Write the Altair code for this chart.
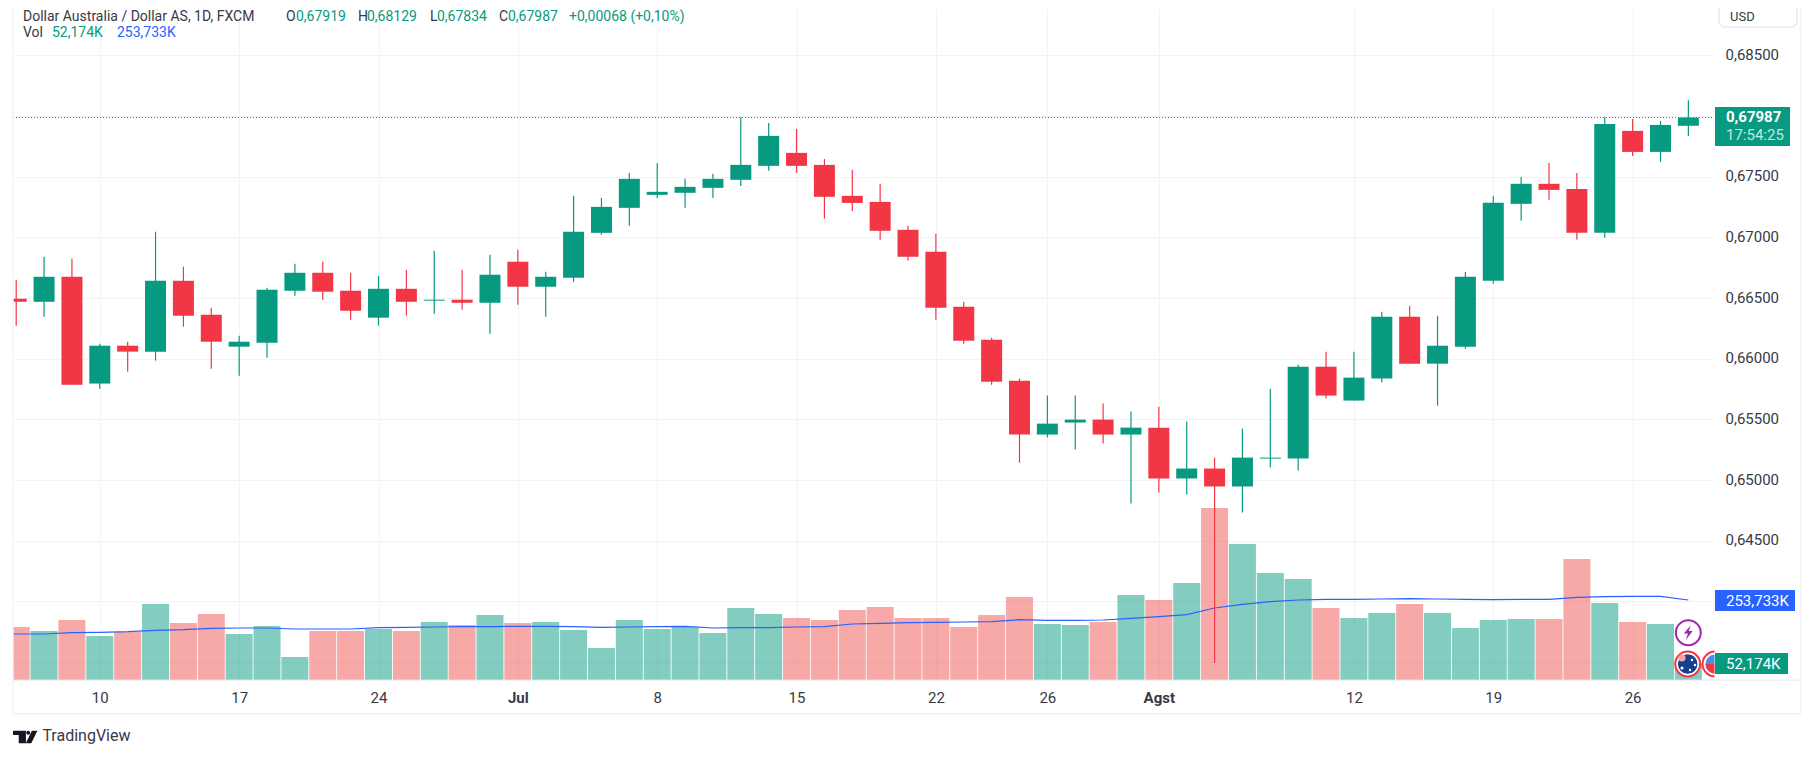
import json
import altair as alt
import pandas as pd

opens = [0.66494,0.66469,0.66675,0.65795,0.66107,0.66058,0.66642,0.66362,0.66099,0.66132,
         0.66560,0.66708,0.66560,0.66338,0.66576,0.66478,0.66486,0.66461,0.66799,0.66593,
         0.66667,0.67037,0.67243,0.67350,0.67367,0.67408,0.67474,0.67589,0.67696,0.67597,
         0.67342,0.67292,0.67062,0.66881,0.66428,0.66157,0.65819,0.65375,0.65474,0.65498,
         0.65375,0.65432,0.65013,0.65095,0.64947,0.65177,0.65177,0.65934,0.65655,0.65836,
         0.66346,0.65959,0.66099,0.66642,0.67276,0.67441,0.67399,0.67037,0.67877,0.67704,
         0.67919]
highs = [0.66650,0.66840,0.66823,0.66124,0.66140,0.67046,0.66758,0.66420,0.66190,0.66585,
         0.66782,0.66799,0.66708,0.66683,0.66733,0.66889,0.66733,0.66856,0.66897,0.66716,
         0.67342,0.67325,0.67531,0.67613,0.67482,0.67523,0.67989,0.67943,0.67893,0.67646,
         0.67556,0.67441,0.67095,0.67029,0.66469,0.66173,0.65836,0.65696,0.65696,0.65630,
         0.65564,0.65605,0.65482,0.65185,0.65424,0.65753,0.65951,0.66058,0.66058,0.66387,
         0.66436,0.66354,0.66716,0.67342,0.67498,0.67613,0.67531,0.67989,0.67976,0.67959,
         0.68129]
lows = [0.66272,0.66346,0.65786,0.65753,0.65893,0.65984,0.66264,0.65918,0.65860,0.66008,
        0.66519,0.66486,0.66321,0.66272,0.66354,0.66371,0.66403,0.66206,0.66445,0.66346,
        0.66634,0.67021,0.67095,0.67325,0.67243,0.67325,0.67424,0.67548,0.67531,0.67153,
        0.67218,0.66980,0.66807,0.66321,0.66124,0.65786,0.65144,0.65350,0.65251,0.65301,
        0.64807,0.64897,0.64881,0.63493,0.64733,0.65103,0.65078,0.65671,0.65655,0.65803,
        0.65959,0.65613,0.66083,0.66618,0.67136,0.67309,0.66980,0.66996,0.67671,0.67622,
        0.67834]
closes = [0.66469,0.66675,0.65786,0.66107,0.66058,0.66642,0.66354,0.66140,0.66140,0.66568,
          0.66708,0.66552,0.66395,0.66576,0.66469,0.66486,0.66461,0.66692,0.66593,0.66675,
          0.67046,0.67251,0.67482,0.67375,0.67416,0.67482,0.67597,0.67836,0.67589,0.67334,
          0.67284,0.67054,0.66840,0.66420,0.66148,0.65811,0.65375,0.65465,0.65498,0.65375,
          0.65432,0.65013,0.65095,0.64947,0.65185,0.65185,0.65934,0.65696,0.65844,0.66346,
          0.65959,0.66107,0.66675,0.67284,0.67441,0.67391,0.67037,0.67934,0.67704,0.67926,
          0.67987]
volumes = [168.1,155.4,190.3,139.5,152.2,241.0,180.7,209.3,145.9,171.2,
           72.9,155.4,155.4,161.7,155.4,183.9,174.4,206.1,180.7,183.9,
           158.6,101.5,190.3,161.7,168.1,149.0,228.3,209.3,196.6,190.3,
           222.0,231.5,196.6,196.6,168.1,206.1,263.2,177.6,174.4,183.9,
           269.5,253.7,307.6,545.4,431.3,339.3,320.3,228.3,196.6,212.5,
           241.0,212.5,164.9,190.3,193.4,193.4,383.7,244.2,183.9,177.6,
           52.174]
vol_ma = [145.9,145.9,150.1,151.2,153.3,157.5,159.6,163.8,164.9,164.9,
          161.7,161.7,161.7,165.9,167.0,168.1,169.1,169.1,170.2,170.2,
          169.1,167.0,168.1,169.1,170.2,164.9,165.9,165.9,168.1,169.1,
          177.6,179.7,181.8,182.9,183.9,185.0,191.3,189.2,189.2,190.3,
          195.5,200.8,207.2,228.3,239.9,248.4,253.7,255.8,255.8,256.9,
          257.9,256.9,255.8,254.7,255.8,255.8,262.1,264.3,265.3,265.3,
          253.733]
vol_ma_before_first = 145.9   # the average runs on to the chart's left edge
time_tick_pos = [3,8,13,18,23,28,33,37,41,48,53,58]
time_tick_txt = ["10","17","24","Jul","8","15","22","26","Agst","12","19","26"]
price_ticks = [0.635,0.64,0.645,0.65,0.655,0.66,0.665,0.67,0.675,0.68,0.685]
labelled_from = 0.6449

GREEN, RED, BLUE = "#089981", "#F23645", "#2962FF"
INK = "#363a45"
FONT = "Roboto"
GRID = "#f2f3f6"
X0, Y0 = 13, 8            # page position of the plot area's corner
W, H = 1701, 672

df = pd.DataFrame({"i": range(len(opens)), "o": opens, "h": highs, "l": lows, "c": closes,
                   "v": volumes})
df_ma = pd.DataFrame({"i": [-1] + list(range(len(vol_ma))), "ma": [vol_ma_before_first] + vol_ma})

x_scale = alt.Scale(domain=[-0.1148, 60.92], nice=False, zero=False, padding=0)
price_scale = alt.Scale(domain=[0.633525, 0.688897], nice=False, zero=False, padding=0)
vol_scale = alt.Scale(domain=[0, 2131], nice=False, zero=False, padding=0)
up = "datum.c >= datum.o"

x_axis = alt.Axis(
    values=time_tick_pos, title=None, grid=True, gridColor=GRID, gridWidth=1,
    ticks=False, domain=False, labelPadding=10, labelFont=FONT, labelFontSize=15,
    labelColor=INK, labelAngle=0, labelOverlap=False, labelFlush=False,
    labelExpr=f"{json.dumps(time_tick_txt)}[indexof({json.dumps(time_tick_pos)}, datum.value)]",
    labelFontWeight={"condition": {"test": "datum.value == 18 || datum.value == 41", "value": "bold"},
                     "value": "normal"},
)
X = alt.X("i:Q", scale=x_scale, axis=x_axis)
price_axis = alt.Axis(
    orient="right", values=price_ticks, title=None, grid=True, gridColor=GRID, gridWidth=1,
    ticks=False, domain=False, labelPadding=11, labelFont=FONT, labelFontSize=15, labelColor=INK,
    labelOverlap=False, labelFlush=False, labelOffset=-1,
    labelExpr=f"datum.value > {labelled_from} && abs(datum.value - 0.68) > 0.001 ? "
              "replace(format(datum.value, '.5f'), '.', ',') : ''",
)

base = alt.Chart(df)
vol_bars = base.mark_bar(size=27, opacity=0.5, clip=True).encode(
    x=X, y=alt.Y("v:Q", scale=vol_scale, axis=None),
    color=alt.condition(up, alt.value(GREEN), alt.value("#EF5350")))
vol_line = alt.Chart(df_ma).mark_line(color=BLUE, strokeWidth=1.2, clip=True).encode(
    x=X, y=alt.Y("ma:Q", scale=vol_scale, axis=None))
wicks = base.mark_rule(strokeWidth=1.2).encode(
    x=X, y=alt.Y("l:Q", scale=price_scale, axis=price_axis), y2="h:Q",
    color=alt.condition(up, alt.value(GREEN), alt.value(RED)))
bodies = base.mark_bar(size=21, clip=True).encode(
    x=X, y=alt.Y("o:Q", scale=price_scale, axis=None), y2="c:Q",
    color=alt.condition(up, alt.value(GREEN), alt.value(RED)))

blank = alt.Data(values=[{"a": 1}])


def px(x):
    return alt.value(x - X0)


def py(y):
    return alt.value(y - Y0)


def text(s, x, y, color=INK, size=14, weight="normal", align="left", font=FONT):
    return alt.Chart(blank).mark_text(text=s, align=align, baseline="middle", font=font, fontSize=size,
                                      fontWeight=weight, color=color).encode(x=px(x), y=py(y))


def box(x, x2, y, y2, fill, stroke=None, radius=0):
    kw = {"stroke": stroke, "strokeWidth": 1.5} if stroke else {}
    return alt.Chart(blank).mark_rect(fill=fill, cornerRadius=radius, opacity=1, **kw).encode(
        x=px(x), x2=px(x2), y=py(y), y2=py(y2))


def hline(x, x2, y, color, width=1, dash=None):
    kw = {"strokeDash": dash} if dash else {}
    return alt.Chart(blank).mark_rule(color=color, strokeWidth=width, **kw).encode(x=px(x), x2=px(x2), y=py(y))


def vline(x, y, y2, color, width=1):
    return alt.Chart(blank).mark_rule(color=color, strokeWidth=width).encode(x=px(x), y=py(y), y2=py(y2))


def dot(x, y, size, fill, stroke=None, sw=2, shape="circle"):
    kw = {"stroke": stroke, "strokeWidth": sw} if stroke else {"strokeWidth": 0}
    return alt.Chart(blank).mark_point(shape=shape, size=size, filled=True, fill=fill, opacity=1, **kw).encode(
        x=px(x), y=py(y))


last_line = alt.Chart(blank).mark_rule(color=GREEN, strokeWidth=1, strokeDash=[1, 2]).encode(
    x=alt.value(0), x2=alt.value(W), y=alt.Y(datum=closes[-1], scale=price_scale, axis=None))

LIGHTNING = "M0.35,-1 L-0.6,0.15 L-0.05,0.15 L-0.35,1 L0.6,-0.2 L0.05,-0.2 Z"
LOGO = ("M-1,-0.516 L0.06,-0.516 L0.06,0.516 L-0.53,0.516 L-0.53,-0.16 L-1,-0.16 Z "
        "M0.09,-0.35 a0.16,0.16 0 1,0 0.32,0 a0.16,0.16 0 1,0 -0.32,0 Z "
        "M0.55,-0.516 L1,-0.516 L0.5,0.516 L0.05,0.516 Z")
HALF = "M-1,0 L1,0 A1,1 0 0,1 -1,0 Z"

HEAD_Y = 16.5

decor = [
    # frame
    vline(13, 8, 714, "#f0f3fa", 1.5),
    vline(1800.5, 8, 714, "#f0f3fa", 1.5),
    hline(13, 1800.5, 714, "#f0f3fa", 2),
    hline(13, 1800.5, 680, "#e0e3eb", 1),
    # events
    dot(1688.3, 632.7, 620, "#ffffff", "#9C27B0", 2),
    dot(1688.3, 632.5, 220, "#9C27B0", shape=LIGHTNING),
    dot(1715, 664, 620, "#ffffff", RED, 2),
    dot(1715, 664, 360, "#4A90E2"),
    dot(1715, 664, 360, RED, shape=HALF),
    dot(1687.7, 664, 620, "#ffffff", RED, 2),
    dot(1687.7, 664, 380, "#173F8F"),
    dot(1682, 658, 50, "#F4A6A6"),
    dot(1692, 660, 6, "#ffffff"),
    dot(1695, 665, 6, "#ffffff"),
    dot(1690, 670, 6, "#ffffff"),
    dot(1682, 668, 10, "#ffffff"),
    box(1714.5, 1800, 645, 679.5, "#ffffff"),
    # header
    text("Dollar Australia / Dollar AS, 1D, FXCM", 23, HEAD_Y),
    text("O", 286, HEAD_Y), text("0,67919", 296, HEAD_Y, GREEN),
    text("H", 358, HEAD_Y), text("0,68129", 367, HEAD_Y, GREEN),
    text("L", 430, HEAD_Y), text("0,67834", 437, HEAD_Y, GREEN),
    text("C", 499, HEAD_Y), text("0,67987", 508, HEAD_Y, GREEN),
    text("+0,00068 (+0,10%)", 569, HEAD_Y, GREEN),
    text("Vol", 23, 33), text("52,174K", 52, 33, GREEN), text("253,733K", 117, 33, BLUE),
    # unit box
    box(1719, 1797, -20, 27, "#ffffff", "#e8eaf0", 6),
    text("USD", 1730, 16.5, size=13),
    # price and volume tags
    box(1715, 1790, 107, 146, GREEN),
    text("0,67987", 1726, 117, "#ffffff", 15, "bold"),
    text("17:54:25", 1726, 135, "#c4e6e0", 15),
    box(1715, 1795, 590, 611, BLUE),
    text("253,733K", 1726, 600.5, "#ffffff", 15),
    box(1715, 1788, 653, 674, GREEN),
    text("52,174K", 1726, 663.5, "#ffffff", 15),
    # brand
    dot(25.2, 737, 595, "#131722", shape=LOGO),
    text("TradingView", 42.4, 736, INK, 16),
]

chart = alt.layer(vol_bars, vol_line, wicks, bodies, last_line, *decor).resolve_scale(y="independent").properties(
    width=W, height=H,
    padding={"left": X0 - 8, "top": 0, "right": 90, "bottom": 66},
    autosize=alt.AutoSizeParams(type="none"),
    background="#ffffff",
).configure_view(strokeWidth=0)

chart.save("out.html", embed_options={"renderer": "svg", "actions": False})
